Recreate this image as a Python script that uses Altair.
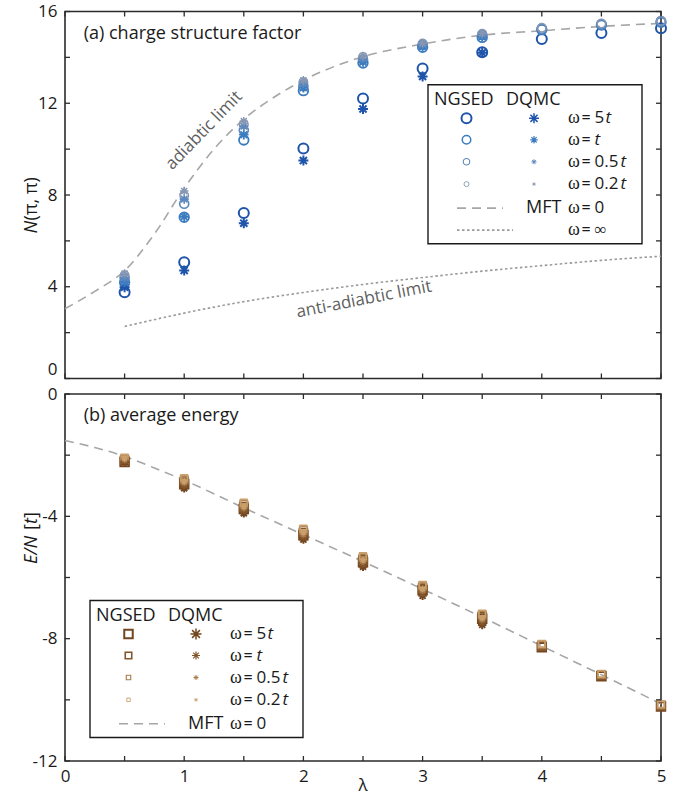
import altair as alt
import pandas as pd

# ---------------------------------------------------------------- data
lam_ngsed = [0.5, 1.0, 1.5, 2.0, 2.5, 3.0, 3.5, 4.0, 4.5, 5.0]
lam_dqmc = [0.5, 1.0, 1.5, 2.0, 2.5, 3.0, 3.5]
omega_keys = ["5t", "t", "0.5t", "0.2t"]

# (a) charge structure factor N(pi, pi)
n_ngsed_w5 = [3.76, 5.07, 7.22, 10.03, 12.21, 13.52, 14.22, 14.80, 15.06, 15.27]
n_ngsed_w1 = [4.18, 7.03, 10.40, 12.55, 13.75, 14.44, 14.87, 15.21, 15.41, 15.53]
n_ngsed_w05 = [4.38, 7.62, 10.82, 12.75, 13.90, 14.55, 14.98, 15.25, 15.45, 15.58]
n_ngsed_w02 = [4.50, 7.98, 11.08, 12.92, 14.02, 14.60, 15.03, 15.29, 15.48, 15.60]
n_dqmc_w5 = [3.98, 4.71, 6.77, 9.50, 11.75, 13.17, 14.20]
n_dqmc_w1 = [4.20, 7.05, 10.63, 12.68, 13.80, 14.48, 14.90]
n_dqmc_w05 = [4.40, 7.82, 11.00, 12.85, 13.95, 14.57, 15.00]
n_dqmc_w02 = [4.58, 8.17, 11.22, 13.00, 14.06, 14.62, 15.05]

lam_mft_n = [0.0, 0.25, 0.5, 0.75, 1.0, 1.25, 1.5, 1.75, 2.0, 2.5, 3.0, 3.5, 4.0, 4.5, 5.0]
n_mft = [3.04, 3.80, 4.70, 6.30, 8.30, 10.00, 11.30, 12.25, 13.00, 14.03, 14.58, 14.97, 15.16, 15.35, 15.48]
lam_anti = [0.5, 1.0, 1.5, 2.0, 2.5, 3.0, 3.5, 4.0, 4.5, 5.0]
n_anti = [2.27, 2.85, 3.35, 3.75, 4.10, 4.40, 4.68, 4.92, 5.15, 5.33]

# (b) average energy E/N
e_ngsed_w5 = [-2.22, -2.95, -3.76, -4.62, -5.50, -6.42, -7.35, -8.28, -9.23, -10.22]
e_ngsed_w1 = [-2.17, -2.88, -3.68, -4.53, -5.42, -6.35, -7.28, -8.24, -9.20, -10.19]
e_ngsed_w05 = [-2.12, -2.80, -3.60, -4.45, -5.35, -6.28, -7.22, -8.20, -9.17, -10.17]
e_ngsed_w02 = [-2.08, -2.75, -3.55, -4.40, -5.30, -6.24, -7.18, -8.17, -9.15, -10.15]
e_dqmc_w5 = [-2.22, -3.08, -3.90, -4.76, -5.65, -6.60, -7.55]
e_dqmc_w1 = [-2.18, -2.98, -3.80, -4.66, -5.55, -6.50, -7.45]
e_dqmc_w05 = [-2.14, -2.90, -3.72, -4.58, -5.47, -6.42, -7.37]
e_dqmc_w02 = [-2.10, -2.85, -3.67, -4.52, -5.42, -6.37, -7.32]

lam_mft_e = [0.0, 0.25, 0.5, 0.75, 1.0, 1.5, 2.0, 2.5, 3.0, 3.5, 4.0, 4.5, 5.0]
e_mft = [-1.52, -1.75, -2.04, -2.42, -2.82, -3.72, -4.60, -5.48, -6.38, -7.30, -8.24, -9.18, -10.13]

# axis ticks and labels
x_ticks = [0, 0.5, 1, 1.5, 2, 2.5, 3, 3.5, 4, 4.5, 5]
x_labels = [0, 1, 2, 3, 4, 5]
n_ticks = [0, 2, 4, 6, 8, 10, 12, 14, 16]
n_labels = [0, 4, 8, 12, 16]
e_ticks = [0, -2, -4, -6, -8, -10, -12]
e_labels = [0, -4, -8, -12]

# ---------------------------------------------------------------- style
SANS = "Open Sans"
SERIF = "Liberation Serif"
INK = "#1a1a1a"
FRAME = "#2b2b2b"
W, H = 596, 367
TICK = 5

blues = ["#1f54ab", "#3b7bbf", "#5b88bd", "#8797b3"]
browns = ["#74461f", "#83552b", "#a87b4a", "#c9a06b"]
circle_size = [100, 72, 42, 25]
circle_width = [2.0, 1.5, 1.1, 0.9]
square_size = [72, 42, 20, 12]
square_width = [2.0, 1.6, 1.1, 0.9]
star_size_a = [100, 56, 25, 12]
star_size_b = [121, 64, 25, 14]
star_width = [1.5, 1.2, 1.0, 0.8]
ASTERISK = "M0,-1L0,1M-1,0L1,0M-0.71,-0.71L0.71,0.71M-0.71,0.71L0.71,-0.71"

ONE = pd.DataFrame({"k": [0]})


def long_table(lams, series):
    rows = []
    for key, vals in zip(omega_keys, series):
        for lam, v in zip(lams, vals):
            rows.append({"lam": lam, "val": v, "omega": key})
    return pd.DataFrame(rows)


def txt(x, y, s, size=18, font=SANS, style="normal", angle=0, align="left",
        color=INK, baseline="middle"):
    return alt.Chart(ONE).mark_text(
        text=s, font=font, fontSize=size, fontStyle=style, angle=angle,
        align=align, baseline=baseline, color=color
    ).encode(x=alt.value(x), y=alt.value(y))


def ordinal(channel, rng):
    return channel("omega:O", scale=alt.Scale(domain=omega_keys, range=rng), legend=None)


def symbols(df, x, y, shape, colors, sizes, widths):
    return alt.Chart(df).mark_point(shape=shape, filled=False, opacity=1).encode(
        x=x, y=y,
        color=ordinal(alt.Color, colors),
        size=ordinal(alt.Size, sizes),
        strokeWidth=ordinal(alt.StrokeWidth, widths),
    )


def frame_ticks(x_enc, y_enc, y_vals):
    xt = pd.DataFrame({"lam": x_ticks})
    yt = pd.DataFrame({"val": y_vals})
    rule = dict(color=FRAME, strokeWidth=1.3)
    return [
        alt.Chart(xt).mark_rule(**rule).encode(x=x_enc, y=alt.value(0), y2=alt.value(TICK)),
        alt.Chart(xt).mark_rule(**rule).encode(x=x_enc, y=alt.value(H - TICK), y2=alt.value(H)),
        alt.Chart(yt).mark_rule(**rule).encode(y=y_enc, x=alt.value(0), x2=alt.value(TICK)),
        alt.Chart(yt).mark_rule(**rule).encode(y=y_enc, x=alt.value(W - TICK), x2=alt.value(W)),
    ]


def omega_label(x, y, value, t_dx):
    parts = [
        txt(x, y, "\u03c9", size=18, font=SERIF),
        txt(x + 13.5, y, "=", size=16),
    ]
    if value:
        parts.append(txt(x + 26.5, y, value, size=17, font=SERIF if value == "\u221e" else SANS))
    if t_dx is not None:
        parts.append(txt(x + 26.5 + t_dx, y, "t", size=17, style="italic"))
    return parts


def legend(x0, y0, w, h, shape_a, col, size_a, width_a, size_b, width_b, with_anti):
    layers = [
        alt.Chart(ONE).mark_rect(fill="white", stroke=INK, strokeWidth=1.4).encode(
            x=alt.value(x0), x2=alt.value(x0 + w), y=alt.value(y0), y2=alt.value(y0 + h)
        ),
        txt(x0 + 6, y0 + 15, "NGSED"),
        txt(x0 + 78, y0 + 15, "DQMC"),
    ]
    rows_y = [33.5, 55, 77, 99.3]
    values = ["5", "", "0.5", "0.2"]
    t_offsets = [11, 0, 26, 26]
    for i in range(4):
        yy = y0 + rows_y[i]
        layers.append(alt.Chart(ONE).mark_point(
            shape=shape_a, filled=False, opacity=1, color=col[i],
            size=size_a[i], strokeWidth=width_a[i]
        ).encode(x=alt.value(x0 + 38.5), y=alt.value(yy)))
        layers.append(alt.Chart(ONE).mark_point(
            shape=ASTERISK, filled=False, opacity=1, color=col[i],
            size=size_b[i], strokeWidth=width_b[i]
        ).encode(x=alt.value(x0 + 106), y=alt.value(yy)))
        layers += omega_label(x0 + 140, yy, values[i], t_offsets[i])
    ym = y0 + 123.3
    layers.append(alt.Chart(ONE).mark_rule(color="#a6a6a6", strokeWidth=1.6, strokeDash=[9, 6]).encode(
        x=alt.value(x0 + 29), x2=alt.value(x0 + 75), y=alt.value(ym)))
    layers.append(txt(x0 + 98, ym, "MFT"))
    layers += omega_label(x0 + 140, ym, "0", None)
    if with_anti:
        yi = y0 + 145.3
        layers.append(alt.Chart(ONE).mark_rule(color="#9a9a9a", strokeWidth=1.6, strokeDash=[2.5, 2.5]).encode(
            x=alt.value(x0 + 29), x2=alt.value(x0 + 85), y=alt.value(yi)))
        layers += omega_label(x0 + 140, yi, "\u221e", None)
    return layers


XS = alt.Scale(domain=[0, 5], nice=False, zero=False)

# ---------------------------------------------------------------- panel (a)
y_axis_a = alt.Axis(values=n_labels, ticks=False, domain=False, grid=False, title=None,
                    labelFont=SANS, labelFontSize=17, labelColor=INK, labelPadding=8,
                    labelBaseline=alt.condition("datum.value == 0", alt.value("bottom"), alt.value("middle")),
                    labelExpr="'' + datum.value")
xa = alt.X("lam:Q", scale=XS, axis=None)
ya = alt.Y("val:Q", scale=alt.Scale(domain=[0, 16], nice=False, zero=False), axis=y_axis_a)

df_n_ngsed = long_table(lam_ngsed, [n_ngsed_w5, n_ngsed_w1, n_ngsed_w05, n_ngsed_w02])
df_n_dqmc = long_table(lam_dqmc, [n_dqmc_w5, n_dqmc_w1, n_dqmc_w05, n_dqmc_w02])
df_n_mft = pd.DataFrame({"lam": lam_mft_n, "val": n_mft})
df_n_anti = pd.DataFrame({"lam": lam_anti, "val": n_anti})

layers_a = [
    alt.Chart(df_n_mft).mark_line(color="#a6a6a6", strokeWidth=1.6, strokeDash=[9, 6],
                                  interpolate="monotone").encode(x=xa, y=ya),
    alt.Chart(df_n_anti).mark_line(color="#9a9a9a", strokeWidth=1.6, strokeDash=[2.5, 2.5],
                                   interpolate="monotone").encode(x=xa, y=ya),
    symbols(df_n_ngsed, xa, ya, "circle", blues, circle_size, circle_width),
    symbols(df_n_dqmc, xa, ya, ASTERISK, blues, star_size_a, star_width),
]
layers_a += frame_ticks(xa, ya, n_ticks)
layers_a += [
    txt(18.7, 22.6, "(a) charge structure factor", size=18),
    txt(139, 119, "adiabtic limit", size=17, angle=314, align="center", color="#5f5f5f"),
    txt(299, 288, "anti-adiabtic limit", size=17, angle=349, align="center", color="#5f5f5f"),
    txt(-33, 222, "N", size=18, style="italic", angle=270),
    txt(-33, 209, "(\u03c0, \u03c0)", size=18, angle=270),
]
layers_a += legend(363, 73.3, 214, 159, "circle", blues, circle_size, circle_width,
                   star_size_a, star_width, True)
panel_a = alt.layer(*layers_a).properties(width=W, height=H)

# ---------------------------------------------------------------- panel (b)
x_axis_b = alt.Axis(values=x_labels, ticks=False, domain=False, grid=False, title=None,
                    labelFont=SANS, labelFontSize=17, labelColor=INK, labelPadding=7,
                    labelFlush=False)
y_axis_b = alt.Axis(values=e_labels, ticks=False, domain=False, grid=False, title=None,
                    labelFont=SANS, labelFontSize=17, labelColor=INK, labelPadding=8,
                    labelExpr="'' + datum.value")
xb = alt.X("lam:Q", scale=XS, axis=x_axis_b)
yb = alt.Y("val:Q", scale=alt.Scale(domain=[-12, 0], nice=False, zero=False), axis=y_axis_b)

df_e_ngsed = long_table(lam_ngsed, [e_ngsed_w5, e_ngsed_w1, e_ngsed_w05, e_ngsed_w02])
df_e_dqmc = long_table(lam_dqmc, [e_dqmc_w5, e_dqmc_w1, e_dqmc_w05, e_dqmc_w02])
df_e_mft = pd.DataFrame({"lam": lam_mft_e, "val": e_mft})

layers_b = [
    alt.Chart(df_e_mft).mark_line(color="#a6a6a6", strokeWidth=1.6, strokeDash=[9, 6],
                                  interpolate="monotone").encode(x=xb, y=yb),
    symbols(df_e_ngsed, xb, yb, "square", browns, square_size, square_width),
    symbols(df_e_dqmc, xb, yb, ASTERISK, browns, star_size_b, star_width),
]
layers_b += frame_ticks(xb, yb, e_ticks)
layers_b += [
    txt(18.7, 21.5, "(b) average energy", size=18),
    txt(-33, 170, "E/N", size=18, style="italic", angle=270),
    txt(-33, 136, "[", size=18, angle=270),
    txt(-33, 130, "t", size=18, style="italic", angle=270),
    txt(-33, 124, "]", size=18, angle=270),
    txt(W / 2, H + 25, "\u03bb", size=17, align="center"),
]
layers_b += legend(25, 206.5, 213, 137, "square", browns, square_size, square_width,
                   star_size_b, star_width, False)
panel_b = alt.layer(*layers_b).properties(width=W, height=H)

chart = alt.vconcat(panel_a, panel_b, spacing=15.5, bounds="flush").resolve_scale(
    color="independent", size="independent", strokeWidth="independent"
).properties(
    padding={"left": 22, "top": 1.5, "right": 4, "bottom": 0}
).configure_view(stroke=FRAME, strokeWidth=1.6)

chart.save("out.html", embed_options={"renderer": "svg", "actions": False})
